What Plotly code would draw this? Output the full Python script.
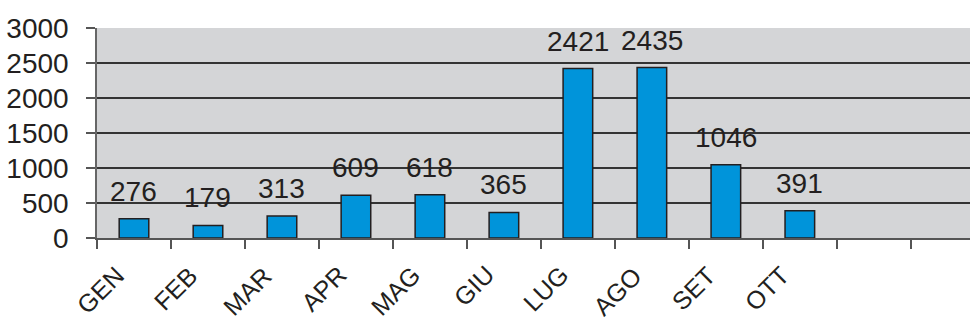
import plotly.graph_objects as go

months = ["GEN", "FEB", "MAR", "APR", "MAG", "GIU", "LUG", "AGO", "SET", "OTT"]
values = [276, 179, 313, 609, 618, 365, 2421, 2435, 1046, 391]
empty_slots = [" ", "  "]
y_ticks = [0, 500, 1000, 1500, 2000, 2500, 3000]
grid_vals = [500, 1000, 1500, 2000, 2500]

FONT = "Liberation Sans, Arial, sans-serif"
TXT = "#231f20"

fig = go.Figure()
fig.add_trace(go.Bar(
    x=months, y=values, width=0.4,
    marker=dict(color="#0094da", line=dict(color="#231f20", width=1.5)),
    hoverinfo="skip",
))
# invisible trace on second y axis to drive gridlines
fig.add_trace(go.Scatter(x=months[:1], y=[0], yaxis="y2", mode="markers",
                         marker=dict(opacity=0), hoverinfo="skip", showlegend=False))

# value labels
for m, v in zip(months, values):
    fig.add_annotation(x=m, y=v, text=str(v), showarrow=False,
                       yanchor="bottom", yshift=10,
                       font=dict(family=FONT, size=28, color=TXT))

# rotated category labels
for m in months:
    fig.add_annotation(x=m, y=0, yref="paper", text=m, showarrow=False,
                       textangle=-45, xanchor="right", yanchor="top",
                       xshift=-2, yshift=-20,
                       font=dict(family=FONT, size=25, color=TXT))

fig.update_layout(
    width=970, height=324,
    margin=dict(l=97, r=0, t=28, b=86),
    paper_bgcolor="white", plot_bgcolor="#d4d5d7",
    showlegend=False,
    font=dict(family=FONT, size=27, color=TXT),
    xaxis=dict(
        type="category", automargin=False,
        categoryorder="array", categoryarray=months + empty_slots,
        range=[-0.5, 11.3],
        tickson="boundaries", ticks="outside", ticklen=9, tickwidth=1.5, tickcolor="#555",
        showticklabels=False,
        showline=True, linecolor="#555", linewidth=2,
        showgrid=False, zeroline=False,
    ),
    yaxis=dict(
        range=[0, 3000], tickvals=y_ticks, automargin=False,
        ticks="outside", ticklen=9, tickwidth=1.5, tickcolor="#555",
        ticklabelstandoff=12,
        showline=True, linecolor="#666", linewidth=1.5,
        showgrid=False, zeroline=False,
        tickfont=dict(family=FONT, size=28, color=TXT),
    ),
    yaxis2=dict(
        overlaying="y", range=[0, 3000], tickvals=grid_vals, automargin=False,
        showticklabels=False, ticks="", showgrid=True,
        gridcolor="#333333", gridwidth=1.5, zeroline=False, showline=False,
    ),
)

fig.write_html("out.html")
